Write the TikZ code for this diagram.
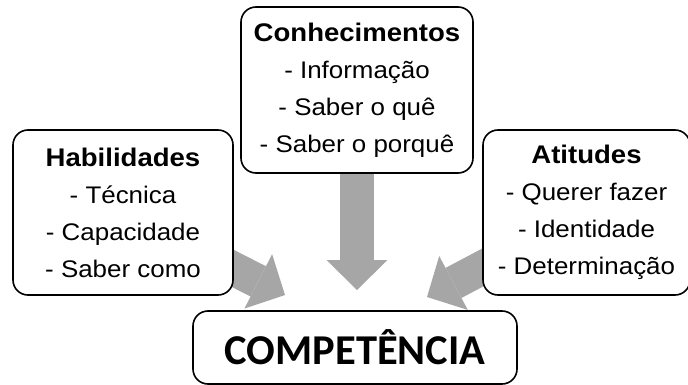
\documentclass[tikz,border=0pt]{standalone}
\usepackage{fontspec}
\setmainfont[FakeStretch=1.08]{Liberation Sans}
\newfontfamily\compfont{Carlito}
\usetikzlibrary{arrows.meta}
\usetikzlibrary{backgrounds}
\definecolor{arrowgray}{RGB}{166,166,166}
\tikzset{
    box/.style = {rectangle, rounded corners=15pt, line width=1.6pt, draw=black, fill=white, align=center, inner sep=0pt, font=\fontsize{24}{37}\selectfont},
    bigarrow/.style = {line width=34pt, draw=arrowgray, -{Triangle[width=61pt,length=30pt,line width=0pt]}}
}
\newcommand{\heading}[1]{{\bfseries\fontsize{25.5}{37}\selectfont #1}}

\begin{document}
\begin{tikzpicture}[x=1pt,y=-1pt]
  \useasboundingbox (0,0) rectangle (688,385);

  \node[box, minimum width=232pt, minimum height=166pt] (conh) at (357,90)
    {\heading{Conhecimentos}\\- Informação\\- Saber o quê\\- Saber o porquê};
  \node[box, minimum width=220pt, minimum height=165pt] (hab) at (123,212.5)
    {\heading{Habilidades}\\- Técnica\\- Capacidade\\- Saber como};
  \node[box, minimum width=207pt, minimum height=165pt] (atit) at (586.5,212.5)
    {\heading{Atitudes}\\- Querer fazer\\- Identidade\\- Determinação};
  \node[box, minimum width=324pt, minimum height=73pt, font=\compfont\bfseries\fontsize{42.5}{50}\selectfont] (comp) at (355,347.5) {COMPETÊNCIA};

  \coordinate (tipl) at (285,295);
  \coordinate (tipm) at (357,290);
  \coordinate (tipr) at (427,297);

  \begin{scope}[on background layer]
    \fill[white] (0,0) rectangle (688,385);
    \draw[bigarrow] (hab.center) -- (tipl);
    \draw[bigarrow] (conh.center) -- (tipm);
    \draw[bigarrow] (atit.center) -- (tipr);
  \end{scope}
\end{tikzpicture}
\end{document}
